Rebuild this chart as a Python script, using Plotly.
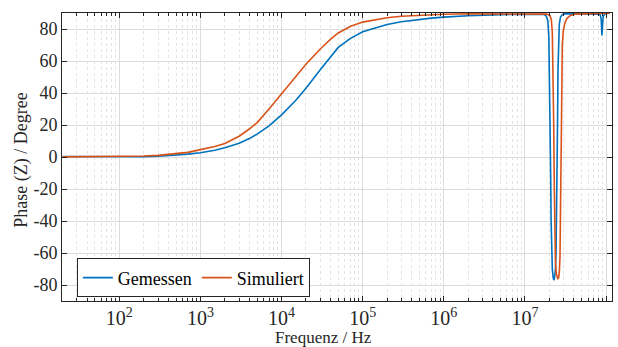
import plotly.graph_objects as go

# Frequency (Hz) and phase (degree)
freq_meas = [20, 30, 50, 100, 200, 300, 500, 700, 1e3, 1.5e3, 2e3, 3e3, 4e3, 5e3, 7e3,
             1e4, 1.5e4, 2e4, 3e4, 4e4, 5e4, 7e4, 1e5, 1.5e5, 2e5, 3e5, 5e5, 7e5, 1e6, 2e6, 5e6,
             1e7, 1.5e7,
             1.713e7, 1.839e7, 1.918e7, 1.973e7, 2.013e7, 2.048e7, 2.077e7, 2.106e7,
             2.136e7, 2.179e7, 2.229e7, 2.274e7, 2.326e7, 2.379e7, 2.420e7, 2.454e7,
             2.489e7, 2.525e7, 2.561e7, 2.597e7, 2.657e7, 2.749e7, 2.893e7, 3.105e7,
             5e7, 7.685e7, 8.487e7, 8.730e7, 8.905e7, 9.057e7, 9.239e7, 9.776e7, 1.11e8]
phase_meas = [0.3, 0.3, 0.2, 0.0, 0.2, 0.5, 1.2, 1.8, 2.7, 4.2, 5.8, 8.6, 11.5, 14.3, 19.5,
              26.3, 35.5, 43.0, 54.5, 62.5, 68.5, 74.0, 78.3, 81.0, 82.8, 84.5, 86.0, 86.8, 87.4, 88.3, 89.0,
              89.2, 89.2,
              89.2, 88.0, 85.0, 75.0, 50.0, 20.0, -10.0, -40.0,
              -60.0, -70.0, -75.0, -77.0, -75.0, -70.0, -60.0, -40.0,
              -10.0, 20.0, 55.0, 75.0, 83.0, 87.5, 89.0, 89.5,
              89.5, 89.3, 89.0, 86.0, 76.0, 80.0, 88.0, 89.5, 89.8]

freq_sim = [20, 30, 50, 100, 200, 300, 500, 700, 1e3, 1.5e3, 2e3, 3e3, 4e3, 5e3, 7e3,
            1e4, 1.5e4, 2e4, 3e4, 4e4, 5e4, 7e4, 1e5, 1.5e5, 2e5, 3e5, 5e5, 1e6, 2e6, 5e6,
            1e7, 1.5e7,
            1.865e7, 2.030e7, 2.118e7, 2.179e7, 2.229e7, 2.267e7, 2.306e7, 2.339e7,
            2.379e7, 2.441e7, 2.496e7, 2.546e7, 2.604e7, 2.657e7, 2.710e7, 2.749e7,
            2.780e7, 2.812e7, 2.852e7, 2.893e7, 2.977e7, 3.105e7, 3.286e7, 3.649e7,
            4.121e7, 5.317e7, 8e7, 1.11e8]
phase_sim = [0.05, 0.1, 0.15, 0.3, 0.6, 1.0, 1.9, 2.9, 4.6, 6.5, 8.5, 13.0, 17.5, 21.5, 30.0,
             39.5, 50.5, 58.0, 67.5, 73.5, 77.5, 81.5, 84.3, 86.0, 87.0, 88.0, 88.7, 89.2, 89.5, 89.6,
             89.5, 89.3,
             89.3, 88.5, 86.0, 78.0, 55.0, 20.0, -20.0, -50.0,
             -65.0, -73.0, -75.5, -76.0, -75.5, -72.0, -62.0, -40.0,
             -10.0, 20.0, 50.0, 70.0, 79.0, 83.5, 86.5, 88.5,
             89.3, 89.6, 89.7, 89.8]

y_ticks = [-80, -60, -40, -20, 0, 20, 40, 60, 80]
y_ticktext = ["-80", "-60", "-40", "-20", "0", "20", "40", "60", "80"]

font_family = "Liberation Serif"
fs = 18

fig = go.Figure()
fig.add_trace(go.Scatter(x=freq_meas, y=phase_meas, mode="lines", name="Gemessen",
                         line=dict(color="#0072BD", width=1.6)))
fig.add_trace(go.Scatter(x=freq_sim, y=phase_sim, mode="lines", name="Simuliert",
                         line=dict(color="#D95319", width=1.6)))

fig.update_layout(
    width=618, height=347,
    margin=dict(l=62, r=6, t=13, b=46, autoexpand=False),
    paper_bgcolor="white", plot_bgcolor="white",
    font=dict(family=font_family, size=fs, color="#262626"),
    showlegend=True,
    legend=dict(orientation="h", x=0.027, y=0.08, xanchor="left", yanchor="middle",
                bgcolor="white", bordercolor="#262626", borderwidth=1,
                font=dict(family=font_family, size=fs, color="black"),
                itemwidth=30, tracegroupgap=0),
    annotations=[
        dict(text="Frequenz / Hz", xref="paper", yref="paper", x=0.476, y=-0.128,
             xanchor="center", yanchor="middle", showarrow=False,
             font=dict(family=font_family, size=17, color="#262626")),
        dict(text="Phase (Z) / Degree", xref="paper", yref="paper", x=-0.073, y=0.49,
             xanchor="center", yanchor="middle", showarrow=False, textangle=-90,
             font=dict(family=font_family, size=fs, color="#262626")),
    ],
)

fig.update_xaxes(
    type="log", range=[1.293, 8.074], automargin=False,
    dtick=1, exponentformat="power",
    showline=True, linecolor="#262626", linewidth=1, mirror="ticks",
    ticks="inside", ticklen=5, tickcolor="#262626",
    showgrid=True, gridcolor="#dcdcdc", gridwidth=1,
    minor=dict(dtick="D1", ticks="inside", ticklen=3, tickcolor="#262626",
               showgrid=True, gridcolor="#e3e3e3", griddash="dot", gridwidth=1),
    zeroline=False,
    tickfont=dict(size=16, family=font_family, color="#262626"),
)
fig.update_yaxes(
    range=[-90, 90], automargin=False,
    tickvals=y_ticks, ticktext=y_ticktext,
    showline=True, linecolor="#262626", linewidth=1, mirror="ticks",
    ticks="inside", ticklen=5, tickcolor="#262626",
    showgrid=True, gridcolor="#dcdcdc", gridwidth=1,
    zeroline=False,
    tickfont=dict(size=fs, family=font_family, color="#262626"),
)

fig.write_html("out.html", config={"displayModeBar": False},
               post_script="document.body.style.margin='0';document.body.style.padding='0';")
